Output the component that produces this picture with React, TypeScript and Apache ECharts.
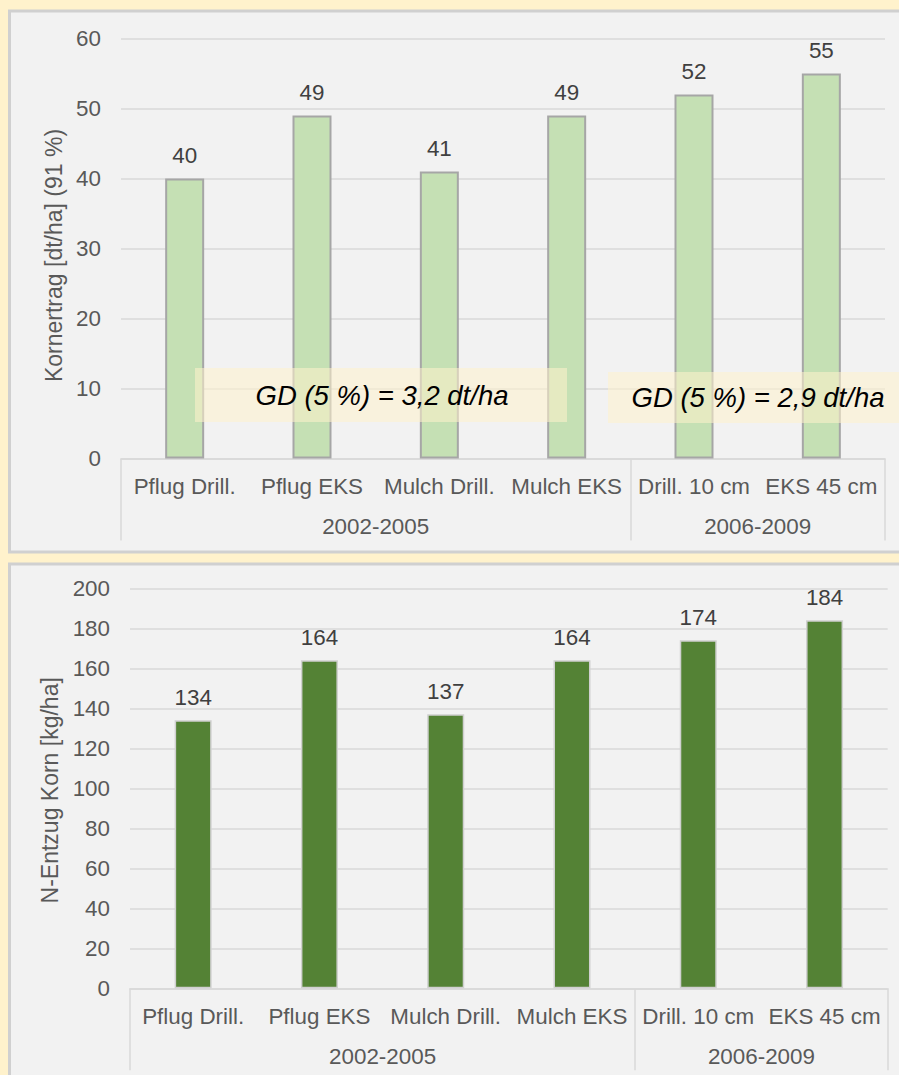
import React, { useEffect, useRef } from "react";
import * as echarts from "echarts";

const categories = ["Pflug Drill.", "Pflug EKS", "Mulch Drill.", "Mulch EKS", "Drill. 10 cm", "EKS 45 cm"];
const groupLabels = ["", "", "2002-2005", "", "", "2006-2009", ""];
const groupBoundaries = [0, 4, 6];
const kornertrag = [40, 49, 41, 49, 52, 55];
const nEntzug = [134, 164, 137, 164, 174, 184];
const gdTexts = ["GD (5 %) = 3,2 dt/ha", "GD (5 %) = 2,9 dt/ha"];

const FONT = "'Liberation Sans', Arial, sans-serif";
const GRID_LINE = "#D9D9D9";
const LABEL = "#595959";

function catAxis(gridIndex: number) {
  return [
    {
      gridIndex,
      type: "category",
      data: categories,
      axisTick: { show: false },
      axisLine: { lineStyle: { color: GRID_LINE, width: 1.5 } },
      axisLabel: { interval: 0, fontSize: 22.4, color: LABEL, margin: 17, fontFamily: FONT },
      splitLine: { show: false },
    },
    {
      gridIndex,
      type: "category",
      position: "bottom",
      boundaryGap: false,
      data: groupLabels,
      axisLine: { show: false },
      axisTick: {
        show: true,
        interval: (i: number) => groupBoundaries.includes(i),
        length: 82,
        lineStyle: { color: GRID_LINE, width: 1.5 },
      },
      axisLabel: { interval: 0, fontSize: 22.4, color: LABEL, margin: 57, fontFamily: FONT },
      splitLine: { show: false },
    },
  ];
}

function valAxis(gridIndex: number, max: number, interval: number, name: string, nameGap: number, padding: number[]) {
  return {
    gridIndex,
    type: "value",
    min: 0,
    max,
    interval,
    name,
    nameLocation: "middle",
    nameGap,
    nameTextStyle: { fontSize: 23, color: LABEL, fontFamily: FONT, padding },
    axisLine: { show: false },
    axisTick: { show: false },
    axisLabel: { fontSize: 22.4, color: LABEL, margin: 20, fontFamily: FONT },
    splitLine: { lineStyle: { color: GRID_LINE, width: 1.5 } },
  };
}

export default function App() {
  const ref = useRef<HTMLDivElement>(null);
  useEffect(() => {
    if (!ref.current) return;
    const chart = echarts.init(ref.current, undefined, { renderer: "svg" });
    const option: any = {
      animation: false,
      backgroundColor: "#FFF2CC",
      textStyle: { fontFamily: FONT },
      grid: [
        { left: 121, top: 38.5, width: 764, height: 420 },
        { left: 130, top: 588.3, width: 757.7, height: 400 },
      ],
      xAxis: [...catAxis(0), ...catAxis(1)],
      yAxis: [
        valAxis(0, 60, 10, "Kornertrag [dt/ha] (91 %)", 54, [0, 14, 0, 0]),
        valAxis(1, 200, 20, "N-Entzug Korn [kg/ha]", 66, [0, 4, 0, 0]),
      ],
      series: [
        {
          type: "bar",
          xAxisIndex: 0,
          yAxisIndex: 0,
          data: kornertrag,
          barWidth: 39,
          itemStyle: { color: "#C5E0B4", borderColor: "#A6A6A6", borderWidth: 2 },
          label: { show: true, position: "top", distance: 12, fontSize: 22.4, color: "#404040", fontFamily: FONT },
        },
        {
          type: "bar",
          xAxisIndex: 2,
          yAxisIndex: 1,
          data: nEntzug,
          barWidth: 37,
          itemStyle: { color: "#548235", borderColor: "#D0D0D0", borderWidth: 1.5 },
          label: { show: true, position: "top", distance: 12, fontSize: 22.4, color: "#404040", fontFamily: FONT },
        },
      ],
      graphic: [
        {
          type: "rect",
          z: -10,
          shape: { x: 9.5, y: 11, width: 1000, height: 541 },
          style: { fill: "#F2F2F2", stroke: "#D0D0D0", lineWidth: 3 },
        },
        {
          type: "rect",
          z: -10,
          shape: { x: 9.5, y: 564, width: 1000, height: 600 },
          style: { fill: "#F2F2F2", stroke: "#D0D0D0", lineWidth: 3 },
        },
        {
          type: "rect",
          z: 10,
          shape: { x: 195, y: 368, width: 372, height: 54 },
          style: { fill: "rgba(255,242,204,0.55)" },
        },
        {
          type: "rect",
          z: 10,
          shape: { x: 608, y: 372, width: 320, height: 51 },
          style: { fill: "rgba(255,242,204,0.55)" },
        },
        {
          type: "text",
          z: 11,
          x: 382,
          y: 395,
          style: {
            text: gdTexts[0],
            fontSize: 27.5,
            fontStyle: "italic",
            fontFamily: FONT,
            fill: "#000000",
            align: "center",
            verticalAlign: "middle",
          },
        },
        {
          type: "text",
          z: 11,
          x: 758,
          y: 397,
          style: {
            text: gdTexts[1],
            fontSize: 27.5,
            fontStyle: "italic",
            fontFamily: FONT,
            fill: "#000000",
            align: "center",
            verticalAlign: "middle",
          },
        },
      ],
    };
    chart.setOption(option);
    return () => chart.dispose();
  }, []);
  return (
    <div
      ref={ref}
      style={{ position: "fixed", left: 0, top: 0, width: 899, height: 1075 }}
    />
  );
}
